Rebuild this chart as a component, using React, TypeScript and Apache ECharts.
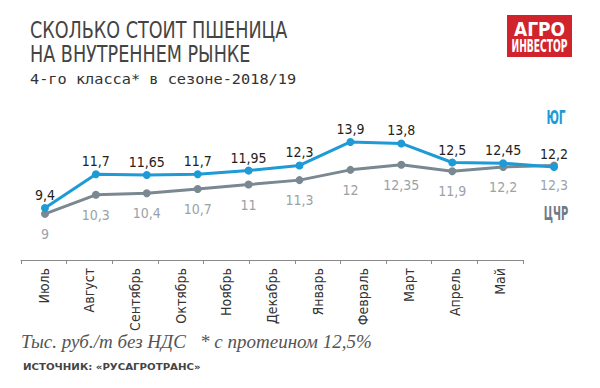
import React, { useEffect, useRef } from "react";
import * as echarts from "echarts";

const months = ["Июль", "Август", "Сентябрь", "Октябрь", "Ноябрь", "Декабрь", "Январь", "Февраль", "Март", "Апрель", "Май"];
const south = [9.4, 11.7, 11.65, 11.7, 11.95, 12.3, 13.9, 13.8, 12.5, 12.45, 12.2];
const center = [9, 10.3, 10.4, 10.7, 11, 11.3, 12, 12.35, 11.9, 12.2, 12.3];
const southName = "ЮГ";
const centerName = "ЦЧР";
const titleLine1 = "СКОЛЬКО СТОИТ ПШЕНИЦА";
const titleLine2 = "НА ВНУТРЕННЕМ РЫНКЕ";
const subtitle = "4-го класса* в сезоне-2018/19";
const unitNote = "Тыс. руб./т без НДС   * с протеином 12,5%";
const sourceNote = "ИСТОЧНИК: «РУСАГРОТРАНС»";

const NARROW = "'DejaVu Sans Condensed', 'Roboto', sans-serif";
const fmt = (v: number) => String(v).replace(".", ",");

export default function App() {
  const ref = useRef<HTMLDivElement>(null);
  useEffect(() => {
    document.body.style.margin = "0";
    const chart = echarts.init(ref.current!, null, { renderer: "svg" });
    chart.setOption({
      animation: false,
      backgroundColor: "#ffffff",
      grid: [
        { left: 21, width: 502, top: 140, height: 120 },
        { left: 19.5, width: 560, top: 140.5, height: 117.4 },
      ],
      xAxis: [
        {
          type: "category",
          gridIndex: 0,
          data: months,
          boundaryGap: true,
          axisLine: { show: true, lineStyle: { color: "#8a8a8a", width: 1 } },
          axisTick: { show: true, length: 4, lineStyle: { color: "#8a8a8a" } },
          axisLabel: {
            rotate: 90,
            margin: 8,
            color: "#333333",
            fontFamily: NARROW,
            fontSize: 14,
          },
        },
        {
          type: "category",
          gridIndex: 1,
          data: months,
          boundaryGap: true,
          show: false,
        },
      ],
      yAxis: [
        { type: "value", gridIndex: 0, show: false, min: 0, max: 10 },
        { type: "value", gridIndex: 1, show: false, min: 6, max: 14, splitLine: { show: false } },
      ],
      series: [
        {
          name: centerName,
          type: "line",
          xAxisIndex: 1,
          yAxisIndex: 1,
          data: center,
          symbol: "circle",
          symbolSize: 8,
          lineStyle: { color: "#7a8891", width: 3 },
          itemStyle: { color: "#7a8891" },
          label: {
            show: true,
            position: "bottom",
            distance: 9,
            color: "#9aa2a8",
            fontFamily: NARROW,
            fontSize: 14,
            formatter: (p: any) => fmt(p.value),
          },
          z: 2,
        },
        {
          name: southName,
          type: "line",
          xAxisIndex: 1,
          yAxisIndex: 1,
          data: south,
          symbol: "circle",
          symbolSize: 8,
          lineStyle: { color: "#1e9ad6", width: 3 },
          itemStyle: { color: "#1e9ad6" },
          label: {
            show: true,
            position: "top",
            distance: 2,
            color: "#222222",
            fontFamily: NARROW,
            fontSize: 14,
            formatter: (p: any) => fmt(p.value),
          },
          z: 3,
        },
      ],
      graphic: [
        {
          type: "text",
          x: 30,
          y: 18,
          scaleX: 0.85,
          style: { text: titleLine1, fill: "#444444", font: `23px ${NARROW}`, verticalAlign: "top" },
        },
        {
          type: "text",
          x: 30,
          y: 42,
          scaleX: 0.85,
          style: { text: titleLine2, fill: "#444444", font: `23px ${NARROW}`, verticalAlign: "top" },
        },
        {
          type: "text",
          x: 30,
          y: 72,
          scaleX: 1.09,
          style: { text: subtitle, fill: "#333333", font: "14px 'DejaVu Sans Mono', monospace", verticalAlign: "top" },
        },
        {
          type: "rect",
          shape: { x: 507, y: 15, width: 65, height: 42 },
          style: { fill: "#d0232b" },
        },
        {
          type: "text",
          x: 539.5,
          y: 29,
          scaleX: 0.95,
          style: { text: "АГРО", fill: "#ffffff", font: `bold 20px ${NARROW}`, align: "center", verticalAlign: "middle" },
        },
        {
          type: "text",
          x: 539.5,
          y: 46,
          scaleX: 0.6,
          style: { text: "ИНВЕСТОР", fill: "#ffffff", font: `bold 17px ${NARROW}`, align: "center", verticalAlign: "middle" },
        },
        {
          type: "text",
          x: 556,
          y: 117,
          scaleX: 0.62,
          style: { text: southName, fill: "#1e9ad6", font: `bold 19px ${NARROW}`, align: "center", verticalAlign: "middle" },
        },
        {
          type: "text",
          x: 556,
          y: 214,
          scaleX: 0.58,
          style: { text: centerName, fill: "#6f7c85", font: `bold 19px ${NARROW}`, align: "center", verticalAlign: "middle" },
        },
        {
          type: "text",
          x: 21,
          y: 332,
          style: { text: unitNote, fill: "#555555", font: "italic 19px 'Liberation Serif', serif", verticalAlign: "top" },
        },
        {
          type: "text",
          x: 23,
          y: 362,
          scaleX: 1.2,
          style: { text: sourceNote, fill: "#444444", font: "bold 8.5px 'DejaVu Sans', sans-serif", verticalAlign: "top" },
        },
      ],
    });
    return () => chart.dispose();
  }, []);
  return <div ref={ref} style={{ width: 600, height: 388 }} />;
}
